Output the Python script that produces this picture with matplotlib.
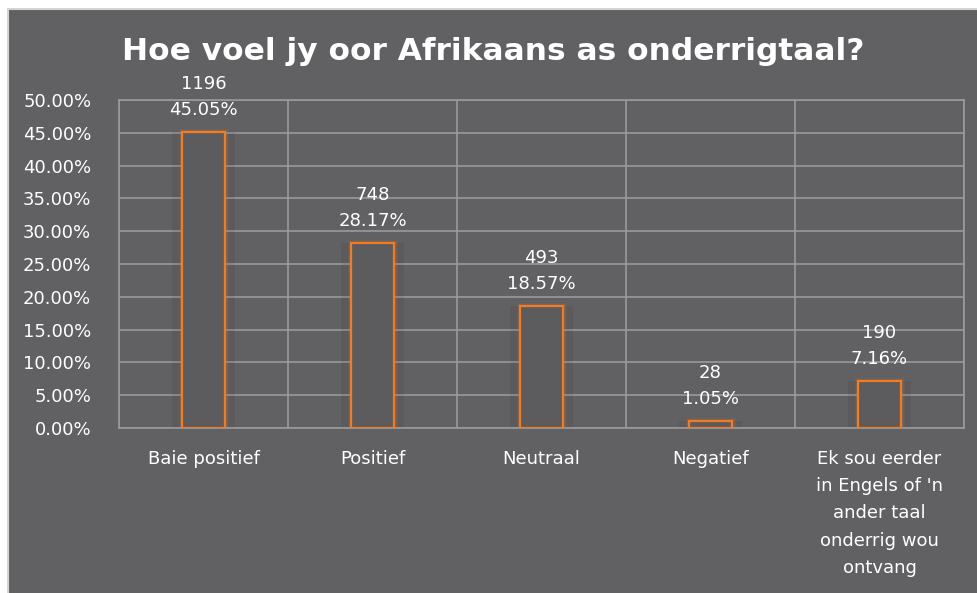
import matplotlib.pyplot as plt
import matplotlib.patches as mpatches
import numpy as np

categories = [
    "Baie positief",
    "Positief",
    "Neutraal",
    "Negatief",
    "Ek sou eerder\nin Engels of 'n\nander taal\nonderrig wou\nontvang",
]
counts = [1196, 748, 493, 28, 190]
percentages = [45.05, 28.17, 18.57, 1.05, 7.16]

bg = "#616163"
grid_col = "#9a9a9c"
orange = "#f47b20"

plt.rcParams["font.family"] = ["DejaVu Sans"]

fig = plt.figure(figsize=(9.77, 5.93), dpi=100)
fig.patch.set_facecolor("white")
# grey panel, white margin only at top and left
top = 1 - 9 / 593
fig.patches.append(mpatches.Rectangle((8 / 977, -0.1), 1.2, top + 0.1,
                                      transform=fig.transFigure,
                                      facecolor=bg, edgecolor="#d4d4d4",
                                      linewidth=1.5, zorder=-10))

ax = fig.add_axes([119 / 977, 1 - 428 / 593, (964 - 119) / 977, (428 - 100) / 593])
ax.set_facecolor(bg)

x = np.arange(len(categories))
width = 0.25

# faint shadow and glow behind the bars
ax.bar(x, percentages, width=width + 0.12, color="black", alpha=0.06, zorder=1)
for lw, a in [(5, 0.07), (3.5, 0.12)]:
    ax.bar(x, percentages, width=width, facecolor="none",
           edgecolor=orange, linewidth=lw, alpha=a, zorder=2)
ax.bar(x, percentages, width=width, facecolor="#5c5c5e",
       edgecolor=orange, linewidth=1.6, zorder=3)

for xi, c, p in zip(x, counts, percentages):
    ax.text(xi, p + 2.0, f"{c}\n{p:.2f}%", ha="center", va="bottom",
            color="white", fontsize=13, linespacing=1.6, zorder=5)

ax.set_xlim(-0.5, len(categories) - 0.5)
ax.set_ylim(0, 50)
ax.set_yticks(np.arange(0, 51, 5))
ax.set_yticklabels([f"{v:.2f}%" for v in np.arange(0, 51, 5)])
ax.set_xticks(x)
ax.set_xticklabels(categories, linespacing=1.65)
ax.set_xticks(np.arange(-0.5, len(categories), 1), minor=True)

ax.tick_params(axis="both", which="both", length=0, colors="white", labelsize=13)
ax.tick_params(axis="x", pad=16)
ax.tick_params(axis="y", pad=20)

ax.grid(True, axis="y", which="major", color=grid_col, linewidth=1.2, zorder=0)
ax.grid(True, axis="x", which="minor", color=grid_col, linewidth=1.2, zorder=0)
ax.grid(False, axis="x", which="major")
ax.set_axisbelow(True)
for s in ax.spines.values():
    s.set_color(grid_col)
    s.set_linewidth(1.2)

fig.text(493 / 977, 1 - 52 / 593, "Hoe voel jy oor Afrikaans as onderrigtaal?",
         ha="center", va="center", color="white", fontsize=22.5, fontweight="bold")

fig.savefig("out.png", dpi=100, facecolor=fig.get_facecolor())
